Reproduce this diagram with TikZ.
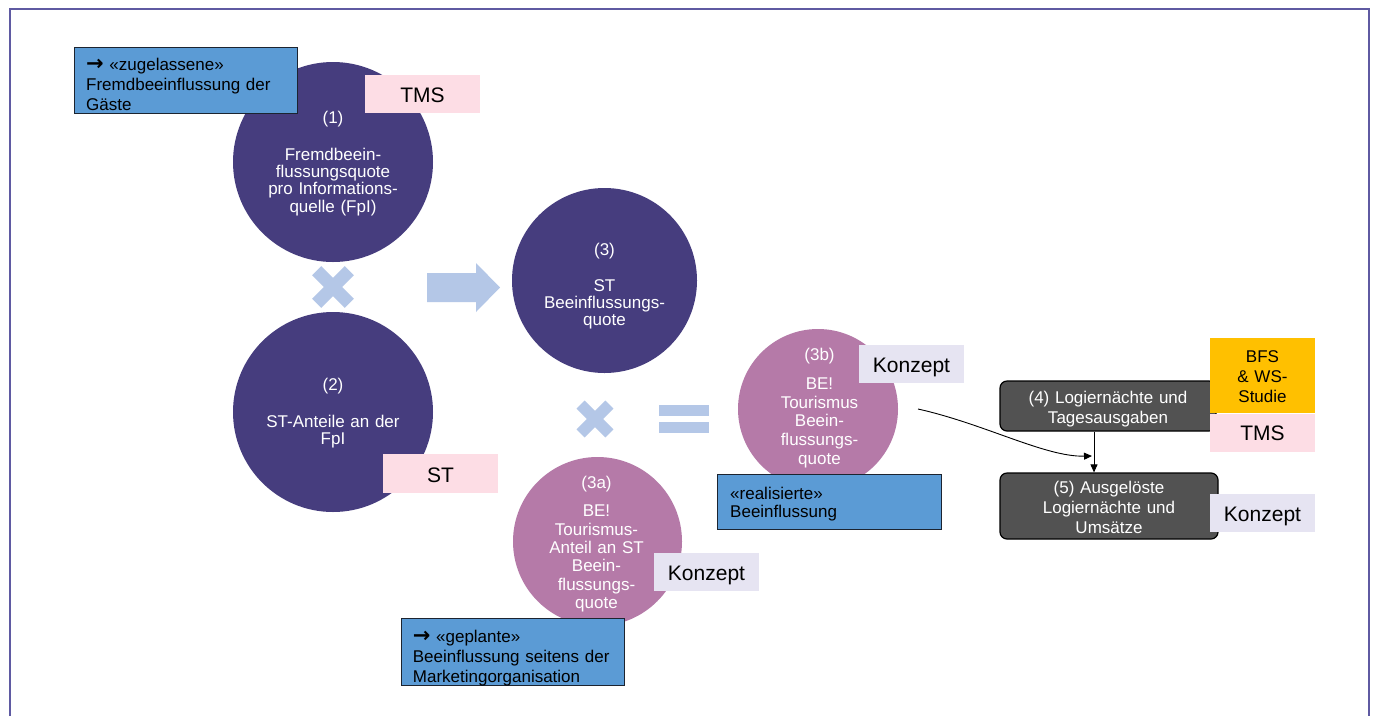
\documentclass[tikz,border=0pt]{standalone}
\usepackage{fontspec}
\setmainfont{Liberation Sans}
\newfontfamily\arrowfont{DejaVu Sans}
\usetikzlibrary{arrows.meta,shapes.geometric}
\definecolor{deeppurple}{HTML}{463D7E}
\definecolor{mauve}{HTML}{B57AA8}
\definecolor{paleblue}{HTML}{B4C7E7}
\definecolor{boxblue}{HTML}{5B9BD5}
\definecolor{labpink}{HTML}{FDDDE5}
\definecolor{lablav}{HTML}{E6E4F2}
\definecolor{labyellow}{HTML}{FFC000}
\definecolor{boxgray}{HTML}{525252}
\definecolor{framecol}{HTML}{5F5AA2}
\definecolor{boxedge}{HTML}{1C2430}
\newcommand{\notearrow}{{\arrowfont\bfseries\fontsize{21}{20}\selectfont →}}
\begin{document}
\begin{tikzpicture}[x=1pt,y=-1pt,
  disc/.style={circle,inner sep=0pt,draw=none},
  circtext/.style={text=white,align=center,text width=190pt,inner sep=0pt,anchor=base},
  bluebox/.style={rectangle,fill=boxblue,draw=boxedge,line width=1.3pt,inner sep=0pt,anchor=north west},
  bluetext/.style={align=left,text width=210pt,inner sep=0pt,anchor=base west,font=\fontsize{17}{20}\selectfont},
  lab/.style={rectangle,inner sep=0pt,minimum width=105pt,minimum height=38pt,text height=17pt,text depth=0pt,font=\fontsize{21}{24}\selectfont},
  graybox/.style={rectangle,rounded corners=7pt,fill=boxgray,draw=black,line width=1.2pt,inner sep=0pt},
  graytext/.style={text=white,align=center,text width=210pt,inner sep=0pt,anchor=base,font=\fontsize{17}{20}\selectfont},
  symb/.style={fill=paleblue,draw=none},
  conn/.style={draw=black,line width=0.9pt,-{Triangle[length=8pt,width=7pt]}}
]
\useasboundingbox (0,0) rectangle (1373,716);
\fill[white] (0,0) rectangle (1373,716);
\draw[framecol,line width=2pt] (10,716) -- (10,9) -- (1369,9) -- (1369,716);

% circles
\node[disc,fill=deeppurple,minimum size=200pt] (c1) at (333,162) {};
\node[circtext,font=\fontsize{17}{17.2}\selectfont] (c1t) at (333,123)
  {(1)\\[20.3pt]Fremdbeein-\\flussungsquote\\pro Informations-\\quelle (FpI)};
\node[disc,fill=deeppurple,minimum size=200pt] (c2) at (333,412) {};
\node[circtext,font=\fontsize{17}{17.3}\selectfont] (c2t) at (333,390)
  {(2)\\[19.7pt]ST-Anteile an der\\FpI};
\node[disc,fill=deeppurple,minimum size=185pt] (c3) at (604.5,280.5) {};
\node[circtext,font=\fontsize{17}{17}\selectfont] (c3t) at (604.5,255)
  {(3)\\[19pt]ST\\Beeinflussungs-\\quote};
\node[disc,fill=mauve,minimum size=169pt] (c3a) at (597.5,541.5) {};
\node[circtext,font=\fontsize{17}{18.4}\selectfont] (c3at) at (596.5,488.5)
  {(3a)\\[9.8pt]BE!\\Tourismus-\\Anteil an ST\\Beein-\\flussungs-\\quote};
\node[disc,fill=mauve,minimum size=160pt] (c3b) at (818,409) {};
\node[circtext,font=\fontsize{17}{18.7}\selectfont] (c3bt) at (819.5,360.5)
  {(3b)\\[10.1pt]BE!\\Tourismus\\Beein-\\flussungs-\\quote};

% operator symbols
\draw[paleblue,line width=13pt] (316.7,270.7) -- (349.3,303.3);
\draw[paleblue,line width=13pt] (316.7,303.3) -- (349.3,270.7);
\draw[paleblue,line width=11.5pt] (580.6,404.6) -- (609.4,433.4);
\draw[paleblue,line width=11.5pt] (580.6,433.4) -- (609.4,404.6);
\fill[symb] (659,405) rectangle (709,416);
\fill[symb] (659,422) rectangle (709,433);
\fill[symb] (427,273) -- (476,273) -- (476,263) -- (500,287.5) -- (476,312) -- (476,302) -- (427,302) -- cycle;

% blue note boxes
\node[bluebox,minimum width=223pt,minimum height=66pt] (zug) at (74,47) {};
\node[bluetext] (zugt) at (86,70.5) {\notearrow{} «zugelassene»\\Fremdbeeinflussung der\\Gäste};
\node[bluebox,minimum width=223pt,minimum height=67pt] (gep) at (401,618) {};
\node[bluetext] (gept) at (412.7,642.3) {\notearrow{} «geplante»\\Beeinflussung seitens der\\Marketingorganisation};
\node[bluebox,minimum width=224pt,minimum height=55pt] (real) at (717,474) {};
\node[bluetext,font=\fontsize{17}{18.3}\selectfont] (realt) at (730,499) {«realisierte»\\Beeinflussung};

% source labels
\node[lab,fill=labpink,minimum width=115pt] (tms1) at (422.5,94) {TMS};
\node[lab,fill=labpink,minimum width=115pt,minimum height=39pt] (st) at (440.5,473.5) {ST};
\node[lab,fill=lablav] (k3a) at (706.5,571.5) {Konzept};
\node[lab,fill=lablav] (k3b) at (911.5,364) {Konzept};

% gray boxes
\node[graybox,minimum width=216pt,minimum height=50pt] (b4) at (1108,406) {};
\node[graytext] (b4t) at (1108,403.9) {(4) Logiernächte und\\Tagesausgaben};
\node[graybox,minimum width=218pt,minimum height=66pt] (b5) at (1109,506) {};
\node[graytext] (b5t) at (1109,493.9) {(5) Ausgelöste\\Logiernächte und\\Umsätze};

\node[rectangle,fill=labyellow,minimum width=105pt,minimum height=75pt,inner sep=0pt] (bfs) at (1262.5,375.5) {};
\node[graytext,text=black] (bfst) at (1262.5,362.9) {BFS\\\& WS-\\Studie};
\node[lab,fill=labpink,text height=15pt] (tms2) at (1262.5,432.5) {TMS};
\node[lab,fill=lablav] (k5) at (1262.5,512.5) {Konzept};

% connectors
\draw[conn] ([xshift=-14pt]b4.south) -- ([xshift=-15pt]b5.north);
\coordinate (cs) at (918,409);
\coordinate (ce) at (1092,456);
\draw[conn] (cs) .. controls (985,424) and (1045,457) .. (ce);
\end{tikzpicture}
\end{document}
